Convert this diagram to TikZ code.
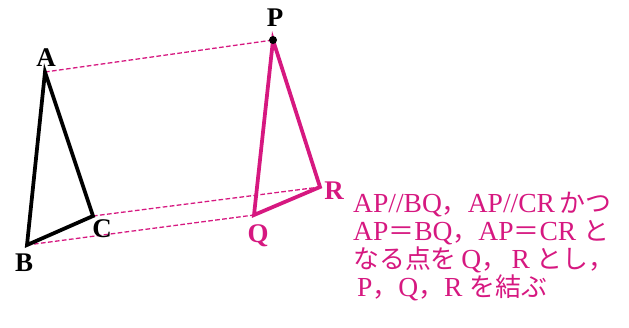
\documentclass[tikz,border=0pt]{standalone}
\usepackage{fontspec}
\setmainfont{Liberation Serif}
\newfontfamily\cjk[Scale=0.94]{Noto Sans CJK JP}
\newcommand{\jp}[1]{{\cjk #1}}
\definecolor{rosa}{RGB}{214,24,128}
\begin{document}
\begin{tikzpicture}[x=0.03cm, y=-0.03cm,
    lbl/.style={font=\fontsize{23}{25}\selectfont\bfseries},
    note/.style={anchor=base west, text=rosa, inner sep=0pt, font=\fontsize{23.5}{26}\selectfont},
    tri/.style={line width=3.2pt, line join=miter},
    guide/.style={rosa, line width=1.1pt, dash pattern=on 4pt off 2pt}]
	 \useasboundingbox (0,0) rectangle (629,327);

	 \coordinate (A) at (45,72);
	 \coordinate (B) at (27,245);
	 \coordinate (C) at (93,216);
	 \coordinate (P) at (273,40);
	 \coordinate (Q) at (254,215);
	 \coordinate (R) at (320,187);

	 \draw[guide] (A) -- (P);
	 \draw[guide] (B) -- (Q);
	 \draw[guide] (C) -- (R);

	 \draw[tri] (A) -- (B) -- (C) -- cycle;
	 \draw[tri, rosa] (P) -- (Q) -- (R) -- cycle;
	 \fill (P) circle (4);

	 \node[lbl] (labA) at (46,58) {A};
	 \node[lbl] (labB) at (24,263) {B};
	 \node[lbl] (labC) at (102,229) {C};
	 \node[lbl] (labP) at (275,18) {P};
	 \node[lbl, rosa] (labQ) at (258,236) {Q};
	 \node[lbl, rosa] (labR) at (334,191) {R};

	 \node[note] (line1) at (353,212) {AP//BQ\jp{，}AP//CR\,\jp{かつ}};
	 \node[note] (line2) at (353,240) {AP\jp{＝}BQ\jp{，}AP\jp{＝}CR\ \jp{と}};
	 \node[note] (line3) at (353,268) {\jp{なる点を}\,Q\jp{，}\,R\ \jp{とし，}};
	 \node[note] (line4) at (357,296) {P\jp{，}Q\jp{，}R\ \jp{を結ぶ}};
\end{tikzpicture}
\end{document}
